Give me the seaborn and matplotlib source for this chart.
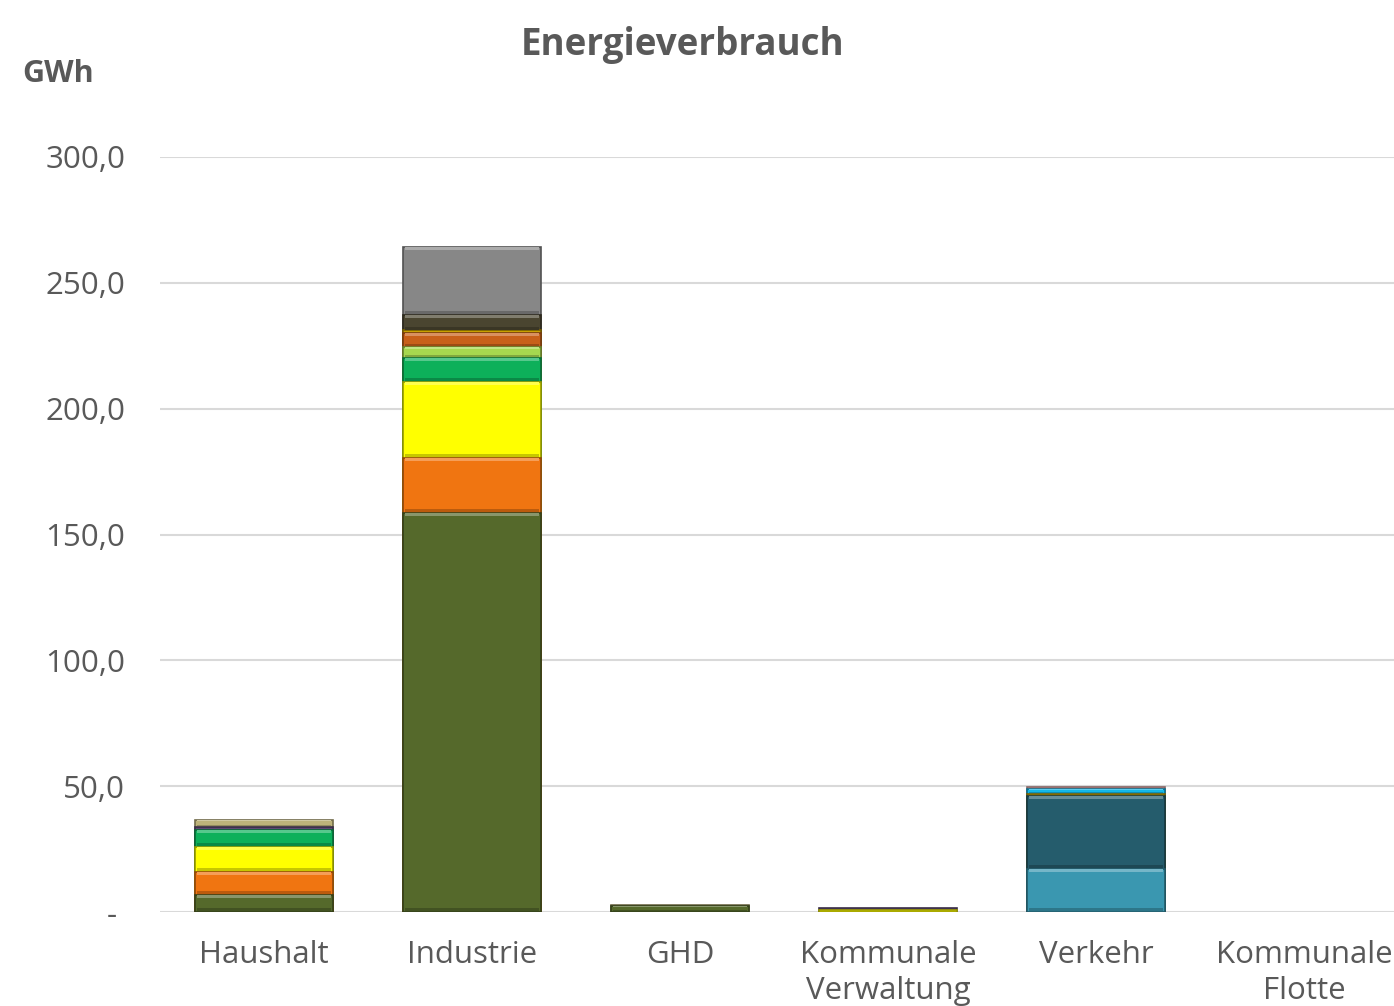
import matplotlib
matplotlib.use("Agg")
import matplotlib.pyplot as plt
import matplotlib.colors as mcolors
from matplotlib.ticker import FuncFormatter
import seaborn as sns
import pandas as pd
import numpy as np

categories = ["Haushalt", "Industrie", "GHD", "Kommunale\nVerwaltung", "Verkehr", "Kommunale\nFlotte"]

series_names = ["Heizöl", "Erdgas", "Strom", "Diesel", "Benzin", "Fernwärme", "Biomasse",
                "Flüssiggas", "Solarthermie", "Umweltwärme", "Kohle", "Sonstige",
                "Biokraftstoffe", "Heizstrom", "Kerosin"]

heizoel       = [6.8, 158.5, 2.5, 0.0, 0.0, 0.0]
erdgas        = [9.1, 21.9, 0.0, 0.0, 0.0, 0.0]
strom         = [9.9, 30.2, 0.0, 0.8, 0.0, 0.0]
diesel        = [0.0, 0.0, 0.0, 0.0, 17.1, 0.0]
benzin        = [0.0, 0.0, 0.0, 0.0, 29.0, 0.0]
fernwaerme    = [6.8, 9.5, 0.0, 0.0, 0.0, 0.0]
biomasse      = [0.0, 4.4, 0.0, 0.0, 0.0, 0.0]
fluessiggas   = [0.0, 5.5, 0.0, 0.0, 0.0, 0.0]
solarthermie  = [0.0, 1.2, 0.0, 0.0, 0.8, 0.0]
umweltwaerme  = [1.2, 0.0, 0.0, 0.7, 0.0, 0.0]
kohle         = [0.0, 6.0, 0.0, 0.0, 0.0, 0.0]
sonstige      = [0.0, 27.0, 0.0, 0.0, 0.0, 0.0]
biokraftstoff = [0.0, 0.0, 0.0, 0.0, 2.0, 0.0]
heizstrom     = [2.8, 0.0, 0.4, 0.0, 0.0, 0.0]
kerosin       = [0.0, 0.0, 0.0, 0.0, 0.6, 0.0]

series_values = [heizoel, erdgas, strom, diesel, benzin, fernwaerme, biomasse, fluessiggas,
                 solarthermie, umweltwaerme, kohle, sonstige, biokraftstoff, heizstrom, kerosin]

series_colors = ["#55692B", "#F07511", "#FFFF00", "#3A97B0", "#255C6C", "#0DB05A", "#A6D84F",
                 "#C8601A", "#C8A000", "#5E4A74", "#4A4530", "#878787", "#14B8E8", "#BDB37A",
                 "#E3A8A8"]

y_ticks = [0, 50, 100, 150, 200, 250, 300]

rows = []
for i, (name, vals) in enumerate(zip(series_names, series_values)):
    for c, v in zip(categories, vals):
        rows.append({"Sektor": c, "Energieträger": name, "idx": i, "value": v})
df = pd.DataFrame(rows)
df["top"] = df.groupby("Sektor")["value"].cumsum()
df["bottom"] = df["top"] - df["value"]

sns.set_theme(style="white")
plt.rcParams["font.family"] = ["Open Sans", "DejaVu Sans"]

fig = plt.figure(figsize=(13.94, 10.06), dpi=100)
ax = fig.add_axes([160/1394, 94/1006, 1248/1394, 755/1006])

text_color = "#595959"
BAR_W = 0.665

def shade(c, f):
    r, g, b = mcolors.to_rgb(c)
    if f < 1:
        return (r*f, g*f, b*f)
    t = f - 1
    return (r + (1-r)*t, g + (1-g)*t, b + (1-b)*t)

# draw from top series down so lower segments cover upper bars
for i in reversed(range(len(series_names))):
    sub = df[(df["idx"] == i) & (df["value"] > 0)]
    if sub.empty:
        continue
    sns.barplot(data=sub, x="Sektor", y="top", order=categories, color=series_colors[i],
                saturation=1, width=BAR_W, errorbar=None, ax=ax,
                edgecolor=shade(series_colors[i], 0.6), linewidth=1.2)

# bevel-like highlight / shadow stripes inside each segment
pos = {c: k for k, c in enumerate(categories)}
seg = df[df["value"] > 1.5]
for _, r in seg.iterrows():
    x = pos[r["Sektor"]]
    c = series_colors[int(r["idx"])]
    h = min(1.3, r["value"] * 0.18)
    ax.bar(x, h, bottom=r["top"] - h, width=BAR_W * 0.97, color=shade(c, 1.3), linewidth=0, zorder=3)
    ax.bar(x, h, bottom=r["bottom"] + 0.25, width=BAR_W * 0.97, color=shade(c, 0.78), linewidth=0, zorder=3)

ax.set_xlim(-0.5, len(categories) - 0.5)
ax.set_ylim(0, 300)
ax.set_yticks(y_ticks)
ax.yaxis.set_major_formatter(FuncFormatter(lambda v, p: "- " if v == 0 else f"{v:.1f}".replace(".", ",")))
ax.grid(axis="y", color="#D9D9D9", linewidth=1.5)
ax.set_axisbelow(True)
for s in ax.spines.values():
    s.set_visible(False)
ax.tick_params(axis="y", length=0, pad=25, labelsize=22.5, labelcolor=text_color)
ax.tick_params(axis="x", length=0, pad=20, labelsize=22.5, labelcolor=text_color)
for lbl in ax.get_xticklabels():
    lbl.set_linespacing(1.25)
ax.set_xlabel("")
ax.set_ylabel("")

fig.text(683/1394, 1 - 45/1006, "Energieverbrauch", ha="center", va="center",
         fontsize=26.5, fontweight="bold", color=text_color)
fig.text(22/1394, 1 - 74/1006, "GWh", ha="left", va="center",
         fontsize=22, fontweight="bold", color=text_color)

fig.savefig("out.png", dpi=100)
